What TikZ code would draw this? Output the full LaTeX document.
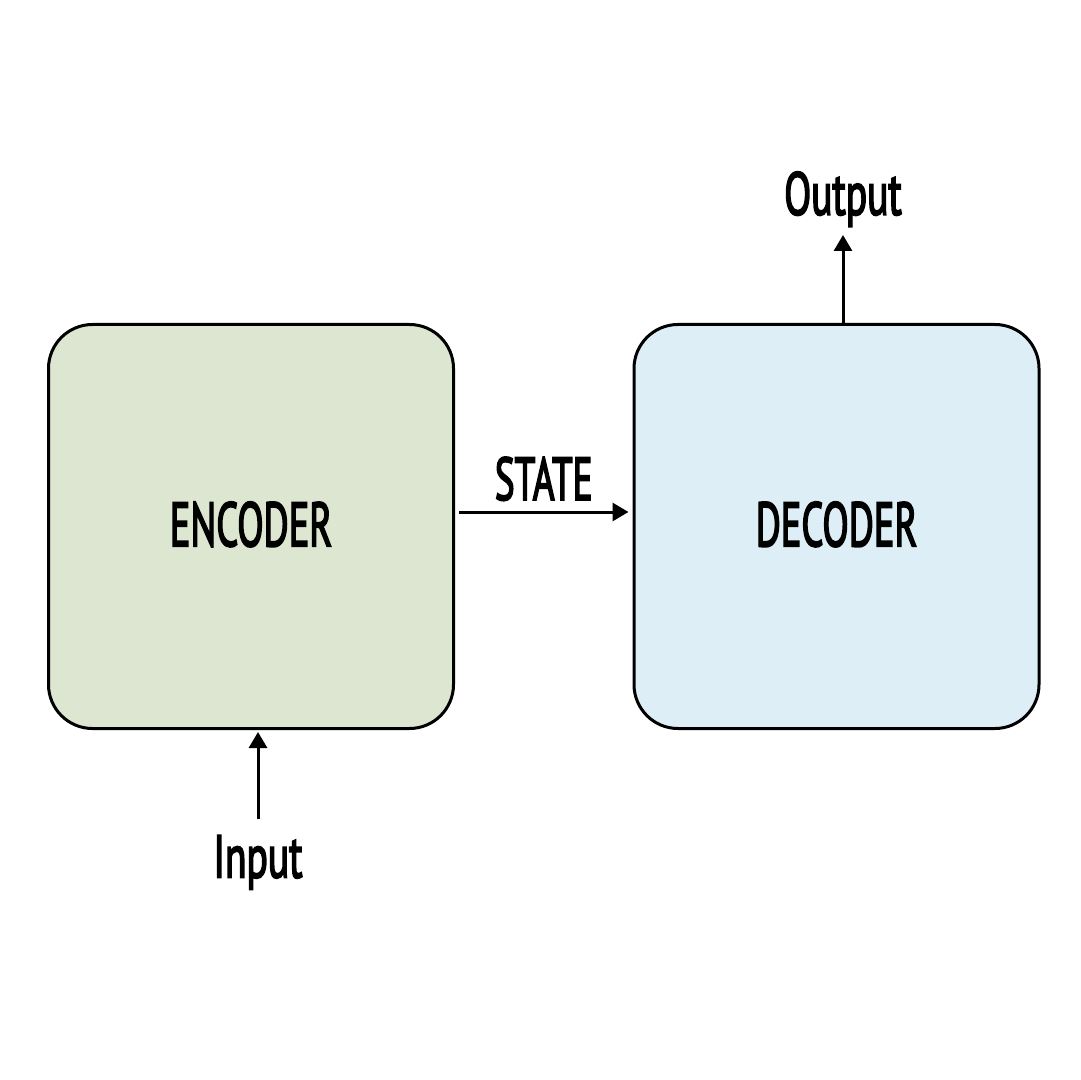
\documentclass[tikz,border=0pt]{standalone}
\usepackage{fontspec}
\setmainfont{PT Sans}
\newfontface\medfont{PT Sans}[FakeBold=3.5]
\usepackage{graphicx}
\usetikzlibrary{arrows.meta,positioning}
\definecolor{encfill}{HTML}{DCE6D1}
\definecolor{decfill}{HTML}{DDEEF6}
\newcommand{\Cond}[1]{\scalebox{0.62}[1]{\medfont #1}}
\tikzset{
  block/.style={draw,line width=1.5pt,rounded corners=22pt,
    minimum width=202.5pt,minimum height=202pt,
    font=\fontsize{31}{36}\selectfont},
  flow/.style={-{Triangle[length=8pt,width=9pt]},line width=1.5pt},
  tag/.style={inner sep=0pt,font=\fontsize{30}{34}\selectfont}
}
\begin{document}
\begin{tikzpicture}[x=0.5pt,y=-0.5pt]
  \useasboundingbox (0,0) rectangle (1080,1080);
  % the two boxes
  \node[block,fill=encfill] (enc) at (251,526.5) {\raisebox{2.5pt}{\Cond{ENCODER}}};
  \node[block,fill=decfill] (dec) at (836.5,526.5) {\raisebox{2.5pt}{\Cond{DECODER}}};
  % state passed across
  \draw[flow,shorten <=2pt,shorten >=2pt] ([yshift=7.25pt]enc.east) -- node[tag,above=5pt] (state) {\Cond{STATE}} ([yshift=7.25pt]dec.west);
  % output on top
  \coordinate (outtip) at (843,235);
  \draw[flow] (outtip |- dec.north) -- (outtip);
  \node[tag,above=4pt of outtip] (outlbl) {\scalebox{1.06}[1]{\Cond{Output}}};
  % input below
  \coordinate (inbase) at (258,819);
  \draw[flow,shorten >=1pt] (inbase) -- (inbase |- enc.south);
  \node[tag,below=8pt of inbase] (inlbl) {\scalebox{1.06}[1]{\Cond{Input}}};
\end{tikzpicture}
\end{document}
